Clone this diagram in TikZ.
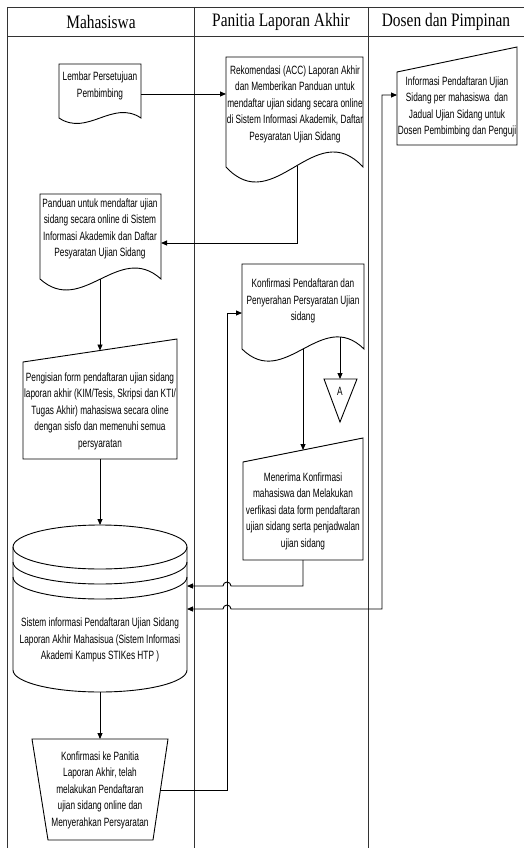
\documentclass[tikz,border=0pt]{standalone}
\usepackage{fontspec}
\usetikzlibrary{arrows.meta}
\newfontfamily\bodyfam[FakeStretch=0.69]{Liberation Sans}
\newfontfamily\hdrfam[FakeStretch=0.81]{Liberation Serif}
\newcommand\myBody{\bodyfam\fontsize{12}{16.5}\selectfont}
\newcommand\myHdr{\hdrfam\fontsize{19}{22}\selectfont}
% document shape: x0, ytop, x1, ybottom, wave control
\newcommand\mydoc[5]{\draw[shp] (#1,#2) -- (#3,#2) -- (#3,#4) .. controls ({#1+0.65*(#3-#1)},{#4-#5}) and ({#1+0.35*(#3-#1)},{#4+#5}) .. (#1,#4) -- cycle;}
\begin{document}
\begin{tikzpicture}[x=1pt,y=-1pt,
  >={Triangle[length=6pt,width=5pt]},
  lane/.style={draw=black!80,line width=0.9pt},
  shp/.style={draw=black,line width=0.9pt},
  conn/.style={draw=black,line width=0.9pt},
  txt/.style={align=center,font=\myBody,inner sep=0pt},
  hdr/.style={font=\myHdr,inner sep=0pt}]
\useasboundingbox (0,0) rectangle (524,848);
% swimlanes
\draw[lane] (7,7) -- (524,7);
\draw[lane] (7,36) -- (524,36);
\draw[lane] (7,7) -- (7,848);
\draw[lane] (194,7) -- (194,848);
\draw[lane] (368,7) -- (368,848);
\node[hdr] (h1) at (101,22) {Mahasiswa};
\node[hdr] (h2) at (281,22) {Panitia Laporan Akhir};
\node[hdr] (h3) at (446,22) {Dosen dan Pimpinan};

% Lembar Persetujuan
\mydoc{59}{64}{141}{118}{19}
\node[txt] (lembar) at (100,86) {Lembar Persetujuan\\Pembimbing};
\coordinate (lembar-e) at (141,94);

% Rekomendasi
\mydoc{226}{57}{363}{167}{52}
\node[txt] (rek) at (295,104) {Rekomendasi (ACC) Laporan Akhir\\dan Memberikan Panduan untuk\\mendaftar ujian sidang secara online\\di Sistem Informasi Akademik, Daftar\\Pesyaratan Ujian Sidang};
\coordinate (rek-w) at (226,94);
\coordinate (rek-s) at (297,165.5);

% Informasi (manual input)
\draw[shp] (397,72) -- (517,47) -- (517,145) -- (397,145) -- cycle;
\node[txt] (inf) at (457,107) {Informasi Pendaftaran Ujian\\Sidang per mahasiswa\ \ dan\\Jadual Ujian Sidang untuk\\Dosen Pembimbing dan Penguji};
\coordinate (inf-w) at (397,95);

% Panduan
\mydoc{40}{194}{161}{279}{38}
\node[txt] (pan) at (100,229) {Panduan untuk mendaftar ujian\\sidang secara online di Sistem\\Informasi Akademik dan Daftar\\Pesyaratan Ujian Sidang};
\coordinate (pan-e) at (161,243);
\coordinate (pan-s) at (100,279);

% Konfirmasi Pendaftaran
\mydoc{242}{264}{364}{349}{42}
\node[txt] (kp) at (303,301) {Konfirmasi Pendaftaran dan\\Penyerahan Persyaratan Ujian\\sidang};
\coordinate (kp-w) at (242,313);
\coordinate (kp-s1) at (340,337);
\coordinate (kp-s2) at (303,349);

% Off-page connector A
\draw[shp] (324,379) -- (357,379) -- (340,422) -- cycle;
\node[txt] (offA) at (340,391) {A};
\coordinate (offA-n) at (340,379);

% Pengisian (manual input)
\draw[shp] (23,362) -- (177,339) -- (177,459) -- (23,459) -- cycle;
\node[txt] (peng) at (100,411) {Pengisian form pendaftaran ujian sidang\\laporan akhir (KIM/Tesis, Skripsi dan KTI/\\Tugas Akhir) mahasiswa secara oline\\dengan sisfo dan memenuhi semua\\persyaratan};
\coordinate (peng-n) at (100,350.5);
\coordinate (peng-s) at (100,459);

% Menerima (manual input)
\draw[shp] (243,462) -- (363,438) -- (363,560) -- (243,560) -- cycle;
\node[txt] (men) at (303,511) {Menerima Konfirmasi\\mahasiswa dan Melakukan\\verfikasi data form pendaftaran\\ujian sidang serta penjadwalan\\ujian sidang};
\coordinate (men-n) at (303,450);
\coordinate (men-s) at (303,560);

% Database
\draw[shp] (100,547) ellipse[x radius=87,y radius=22];
\draw[shp] (13,562) arc[start angle=180,end angle=0,x radius=87,y radius=22];
\draw[shp] (13,577) arc[start angle=180,end angle=0,x radius=87,y radius=22];
\draw[shp] (13,547) -- (13,670) arc[start angle=180,end angle=0,x radius=87,y radius=22] -- (187,547);
\node[txt] (db) at (100,640) {Sistem informasi Pendaftaran Ujian Sidang\\Laporan Akhir Mahasisua (Sistem Informasi\\Akademi Kampus STIKes HTP )};
\coordinate (db-n) at (100,525);
\coordinate (db-s) at (100,692);
\coordinate (db-e1) at (187,586);
\coordinate (db-e2) at (187,609);

% Konfirmasi ke Panitia (manual operation)
\draw[shp] (32,739) -- (168,739) -- (153,840) -- (48,840) -- cycle;
\node[txt] (kkp) at (100,790) {Konfirmasi ke Panitia\\Laporan Akhir, telah\\melakukan Pendaftaran\\ujian sidang online dan\\Menyerahkan Persyaratan};
\coordinate (kkp-n) at (100,739);
\coordinate (kkp-e) at (160.4,790);

% routing helpers
\coordinate (hopx) at (227,0);
\coordinate (vx) at (382,0);

% connectors
\draw[conn,->] (lembar-e) -- (rek-w);
\draw[conn,->] (rek-s) |- (pan-e);
\draw[conn,->] (pan-s) -- (peng-n);
\draw[conn,->] (peng-s) -- (db-n);
\draw[conn,->] (db-s) -- (kkp-n);
\draw[conn,->] (kkp-e) -- (hopx |- kkp-e) -- (hopx |- kp-w) -- (kp-w);
\draw[conn,->] (kp-s1) -- (offA-n);
\draw[conn,->] (kp-s2) -- (men-n);
\draw[conn,->] (men-s) -- (men-s |- db-e1) -- ([xshift=4pt]hopx |- db-e1) arc[start angle=0,end angle=-180,radius=4] -- (db-e1);
\draw[conn,<->] (db-e2) -- ([xshift=-4pt]hopx |- db-e2) arc[start angle=180,end angle=360,radius=4] -- (vx |- db-e2) -- (vx |- inf-w) -- (inf-w);
\end{tikzpicture}
\end{document}
